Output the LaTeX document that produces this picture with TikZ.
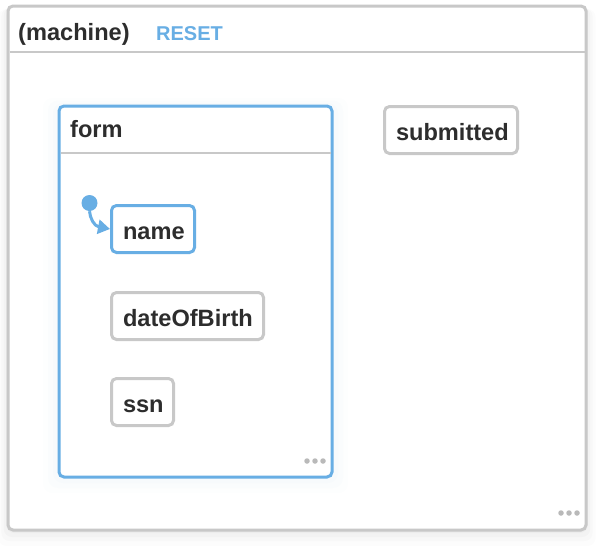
\documentclass[tikz,border=0pt]{standalone}
\usepackage{fontspec}
\setmainfont{Liberation Sans}
\usetikzlibrary{arrows.meta}
\definecolor{sblue}{RGB}{104,174,228}
\definecolor{sgray}{RGB}{200,200,200}
\definecolor{stext}{RGB}{45,45,45}
\definecolor{sdots}{RGB}{185,185,185}
\tikzset{
  x=1pt, y=-1pt,
  title/.style={font=\fontsize{23.6}{26}\selectfont\bfseries, text=stext, anchor=base west, inner sep=0pt},
  leaf/.style={draw=sgray, line width=3pt, rounded corners=5pt, fill=white, anchor=north west,
    font=\fontsize{23.6}{26}\selectfont\bfseries, text=stext, inner ysep=0pt, inner xsep=11.5pt,
    text height=20pt, text depth=0pt, align=left, minimum height=47pt},
  activeleaf/.style={leaf, draw=sblue},
  frame/.style={draw=sgray, line width=3pt, rounded corners=5pt, fill=white},
  hline/.style={draw=sgray, line width=2pt},
  dot/.style={circle, fill=sdots, inner sep=0pt, minimum size=5.5pt},
}
\begin{document}
\begin{tikzpicture}
\useasboundingbox (0,0) rectangle (606,552);
\fill[white] (0,0) rectangle (606,552);
% soft shadow of outer box
\foreach \d/\o in {16/0.012,11/0.016,7/0.02,3/0.025}{
  \fill[black, opacity=\o, rounded corners=8pt] (8-\d*0.6,6+\d*0.2) rectangle (586+\d*0.6,530+\d);
}
% outer machine
\path[frame] (8,6) rectangle (586,530);
\draw[hline] (9.5,52) -- (584.5,52);
\node[title] (mtitle) at (18,40.5) {(machine)};
\node[title, font=\fontsize{20}{22}\selectfont\bfseries, text=sblue] (reset) at (156,40) {RESET};
\node[dot] (od1) at (561,513) {};
\node[dot] (od2) at (569,513) {};
\node[dot] (od3) at (577,513) {};
% form soft shadow
\foreach \d/\o in {16/0.012,11/0.015,6/0.02}{
  \fill[sblue, opacity=\o, rounded corners=10pt] (59-\d,106-\d*0.5) rectangle (332+\d,477+\d);
}
% form
\path[draw=sblue, line width=3pt, rounded corners=5pt, fill=white] (59,106) rectangle (332,477);
\draw[hline] (60.5,153) -- (330.5,153);
\node[title] (ftitle) at (70,137.5) {form};
\node[dot] (fd1) at (307,461) {};
\node[dot] (fd2) at (315,461) {};
\node[dot] (fd3) at (323,461) {};
% leaves
\node[activeleaf, text width=83pt-23pt] (name) at (110,204) {name};
\node[leaf, text width=152pt-23pt] (dob) at (110,291) {dateOfBirth};
\node[leaf, text width=62pt-23pt] (ssn) at (110,377) {ssn};
\node[leaf, text width=133pt-23pt] (sub) at (383,105) {submitted};
% initial
\node[circle, fill=sblue, inner sep=0pt, minimum size=16pt] (init) at (89.5,203) {};
\draw[sblue, line width=3pt, -{Triangle[length=12pt, width=14pt]}] (init.south) .. controls (90,218) and (94,226) .. (name.west);
\end{tikzpicture}
\end{document}
